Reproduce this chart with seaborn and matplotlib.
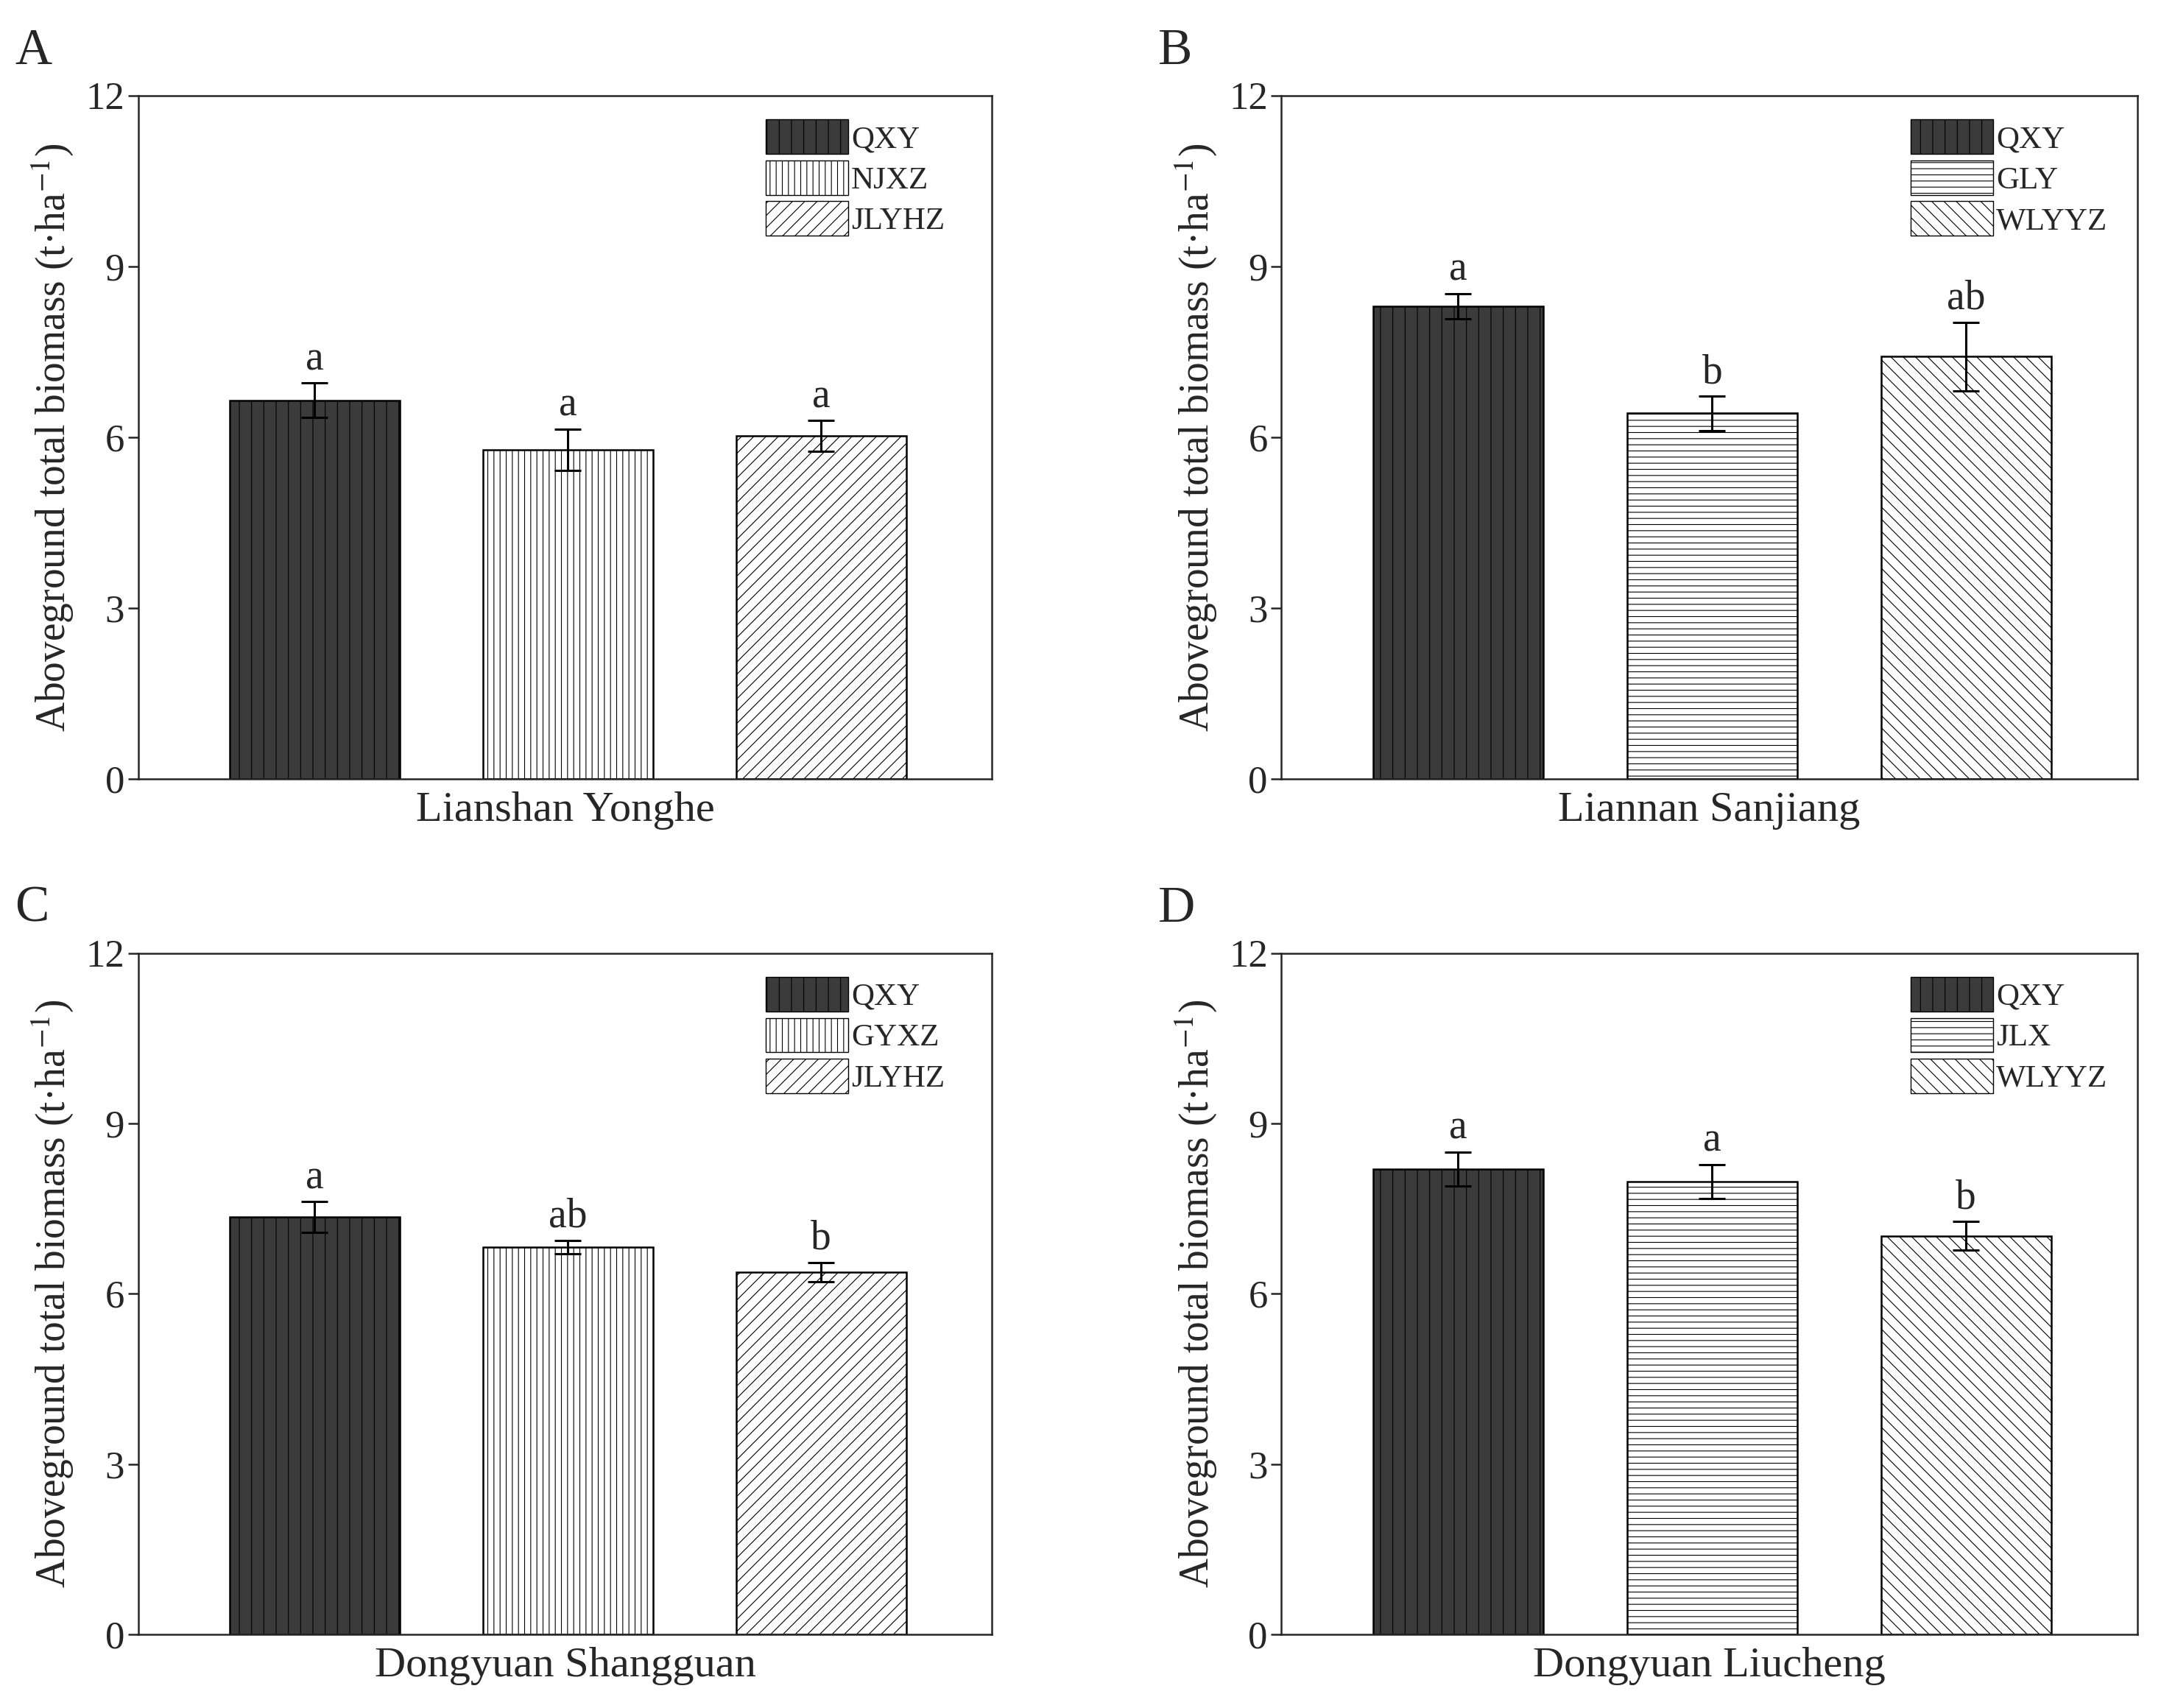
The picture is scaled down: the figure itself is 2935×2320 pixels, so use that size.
import matplotlib
matplotlib.use("Agg")
import matplotlib.pyplot as plt
import seaborn as sns
import pandas as pd
from matplotlib.patches import Patch

sns.set_style("ticks")
plt.rcParams['font.family'] = ['Liberation Serif', 'DejaVu Serif']
plt.rcParams['hatch.linewidth'] = 0.8
plt.rcParams['mathtext.fontset'] = 'stix'

panels = ["A", "B", "C", "D"]
sites = ["Lianshan Yonghe", "Liannan Sanjiang", "Dongyuan Shangguan", "Dongyuan Liucheng"]
cultivars = [["QXY", "NJXZ", "JLYHZ"], ["QXY", "GLY", "WLYYZ"],
             ["QXY", "GYXZ", "JLYHZ"], ["QXY", "JLX", "WLYYZ"]]
means = [[6.65, 5.78, 6.02], [8.30, 6.42, 7.42], [7.35, 6.82, 6.38], [8.20, 7.98, 7.02]]
errs = [[0.30, 0.36, 0.27], [0.22, 0.30, 0.60], [0.27, 0.12, 0.17], [0.30, 0.30, 0.25]]
letters = [["a", "a", "a"], ["a", "b", "ab"], ["a", "ab", "b"], ["a", "a", "b"]]
hatches = [["|", "||", "//"], ["|", "--", "\\\\"], ["|", "||", "//"], ["|", "--", "\\\\"]]

fig = plt.figure(figsize=(29.35, 23.2), dpi=100)
rects = [[0.064, 0.544, 0.395, 0.400], [0.593, 0.544, 0.396, 0.400],
         [0.064, 0.043, 0.395, 0.399], [0.593, 0.043, 0.396, 0.399]]
fs = 38
for i in range(4):
    ax = fig.add_axes(rects[i])
    df = pd.DataFrame({"cv": cultivars[i], "v": means[i]})
    sns.barplot(data=df, x="cv", y="v", ax=ax, width=0.67, color="white",
                edgecolor="black", linewidth=1.8, errorbar=None)
    fills = ["#3b3b3b", "white", "white"]
    for j, p in enumerate(ax.patches[:3]):
        p.set_facecolor(fills[j])
        p.set_hatch(hatches[i][j])
        p.set_edgecolor("black")
    ax.errorbar(range(3), means[i], yerr=errs[i], fmt="none", ecolor="black",
                elinewidth=2.2, capsize=13, capthick=2.2)
    for j in range(3):
        ax.text(j, means[i][j] + errs[i][j] + 0.08, letters[i][j], ha="center",
                va="bottom", fontsize=fs + 2)
    ax.set_xlim(-0.696, 2.674)
    ax.set_ylim(0, 12)
    ax.set_yticks([0, 3, 6, 9, 12])
    ax.set_xticks([])
    ax.set_xlabel(sites[i], fontsize=fs + 4, labelpad=12)
    ax.set_ylabel("Aboveground total biomass (t·ha$^{-1}$)", fontsize=fs + 2, labelpad=10)
    ax.tick_params(axis="y", labelsize=fs, width=1.8, length=10, direction="out")
    for s in ax.spines.values():
        s.set_visible(True)
        s.set_linewidth(1.8)
    handles = [Patch(facecolor=fills[j], edgecolor="black", hatch=hatches[i][j],
                     label=cultivars[i][j]) for j in range(3)]
    ax.legend(handles=handles, loc="upper left", bbox_to_anchor=(0.735, 0.965),
              fontsize=31, frameon=False, handlelength=2.6, handleheight=1.3,
              handletextpad=0.1, labelspacing=0.2, borderaxespad=0, borderpad=0)
    fig.text(rects[i][0] - 0.057, rects[i][1] + rects[i][3] + 0.012, panels[i],
             fontsize=50, va="bottom")

fig.savefig("out.png", dpi=100)
